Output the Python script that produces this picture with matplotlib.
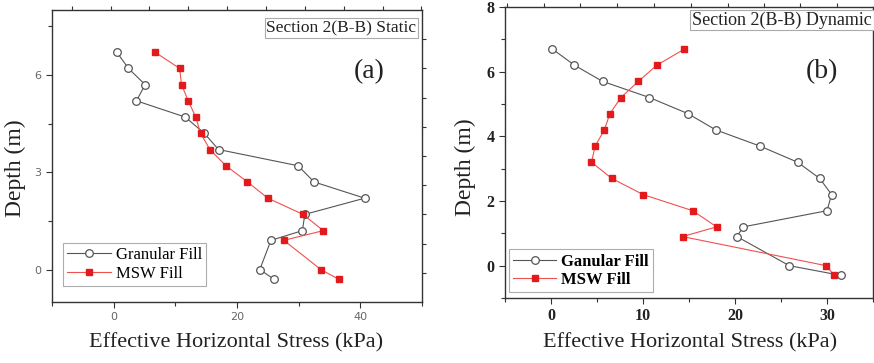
import numpy as np
import matplotlib
matplotlib.use('Agg')
import matplotlib.pyplot as plt
from matplotlib.ticker import MultipleLocator

# depths (m), same for every series
depth = [6.7, 6.2, 5.7, 5.2, 4.7, 4.2, 3.7, 3.2, 2.7, 2.2, 1.7, 1.2, 0.9, 0.0, -0.3]

# (a) static
static_granular = [0.5, 2.4, 5.1, 3.7, 11.6, 14.7, 17.0, 29.9, 32.5, 40.7, 31.0, 30.6, 25.5, 23.7, 26.0]
static_msw = [6.7, 10.7, 11.0, 12.1, 13.3, 14.1, 15.6, 18.2, 21.7, 25.0, 30.7, 34.0, 27.6, 33.6, 36.5]

# (b) dynamic
dyn_granular = [0.15, 2.55, 5.6, 10.7, 14.9, 17.9, 22.7, 26.8, 29.2, 30.5, 30.0, 20.9, 20.2, 25.9, 31.5]
dyn_msw = [14.5, 11.5, 9.5, 7.6, 6.4, 5.8, 4.8, 4.4, 6.6, 10.0, 15.4, 18.0, 14.3, 29.9, 30.8]

# odd extra ticks on the right / top frame of the original
right_ticks = [7.1, 6.2, 5.3, 4.4, 3.5, 2.6, 1.7, 0.8, -0.1]
top_ticks_a = [-6.8, -0.5, 5.8, 12.1, 18.4, 24.7, 31.0, 37.3, 43.6, 49.9]
top_ticks_b = [-4.8, -0.8, 3.2, 7.2, 11.2, 15.2, 19.2, 23.1, 27.1, 31.1]

serif = ['Liberation Serif', 'DejaVu Serif']
gray = '#555555'
red = '#e31a1c'
lred = '#f05050'
spine_c = '#333333'

fig = plt.figure(figsize=(8.74, 3.63), dpi=100)
W, H = 874.0, 363.0


def frame(ax, top_ticks):
    for s in ax.spines.values():
        s.set_color(spine_c)
        s.set_linewidth(1.0)
    ax.tick_params(which='both', direction='out', color=spine_c, width=0.8)
    ax.tick_params(which='major', length=4)
    ax.tick_params(which='minor', length=3)
    # right ticks
    axr = ax.twinx()
    axr.set_ylim(ax.get_ylim())
    axr.set_yticks(right_ticks)
    axr.set_yticklabels([])
    axr.tick_params(direction='out', length=3, color=spine_c, width=0.8)
    axr.spines['right'].set_color(spine_c)
    # top ticks
    axt = ax.twiny()
    axt.set_xlim(ax.get_xlim())
    axt.set_xticks(top_ticks)
    axt.set_xticklabels([])
    axt.tick_params(direction='out', length=3, color=spine_c, width=0.8)
    for a in (axr, axt):
        for s in a.spines.values():
            s.set_visible(False)


# ---------------- panel (a) ----------------
ax1 = fig.add_axes([52 / W, 1 - 302 / H, 370 / W, 292 / H])
ax1.plot(static_granular, depth, '-o', color=gray, lw=0.8, ms=5.5,
         mfc='white', mec=gray, mew=0.9, label='Granular Fill')
ax1.plot(static_msw, depth, '-s', color=lred, lw=0.8, ms=4.5,
         mfc=red, mec=red, label='MSW Fill')
ax1.set_xlim(-10, 50)
ax1.set_ylim(-1, 8)
ax1.xaxis.set_major_locator(MultipleLocator(20))
ax1.xaxis.set_minor_locator(MultipleLocator(10))
ax1.yaxis.set_major_locator(MultipleLocator(3))
ax1.yaxis.set_minor_locator(MultipleLocator(1.5))
ax1.tick_params(labelsize=8, labelcolor='#666666')
frame(ax1, top_ticks_a)
leg = ax1.legend(loc='lower left', bbox_to_anchor=(0.03, 0.055), frameon=True,
                 fancybox=False, prop={'family': serif, 'size': 12},
                 handlelength=2.6, handletextpad=0.3, borderpad=0.25,
                 labelspacing=0.15, borderaxespad=0)
leg.get_frame().set_edgecolor('#999999')
leg.get_frame().set_linewidth(0.8)
ax1.text(0.985, 0.965, 'Section 2(B-B) Static', transform=ax1.transAxes,
         ha='right', va='top', family=serif, fontsize=12.5, color='#222222',
         bbox=dict(boxstyle='square,pad=0.1', fc='white', ec='#aaaaaa', lw=0.8))
ax1.text(369 / W, 1 - 72 / H, '(a)', transform=fig.transFigure, ha='center',
         va='center', family=serif, fontsize=20, color='#222222')

# ---------------- panel (b) ----------------
ax2 = fig.add_axes([505 / W, 1 - 298 / H, 368 / W, 291 / H])
ax2.plot(dyn_granular, depth, '-o', color=gray, lw=0.8, ms=5.5,
         mfc='white', mec=gray, mew=0.9, label='Ganular Fill')
ax2.plot(dyn_msw, depth, '-s', color=lred, lw=0.8, ms=4.5,
         mfc=red, mec=red, label='MSW Fill')
ax2.set_xlim(-5, 35)
ax2.set_ylim(-1, 8)
ax2.xaxis.set_major_locator(MultipleLocator(10))
ax2.xaxis.set_minor_locator(MultipleLocator(5))
ax2.yaxis.set_major_locator(MultipleLocator(2))
ax2.yaxis.set_minor_locator(MultipleLocator(1))
ax2.tick_params(labelsize=11.5, labelcolor='#222222')
for t in ax2.get_xticklabels() + ax2.get_yticklabels():
    t.set_family(serif)
    t.set_fontweight('bold')
frame(ax2, top_ticks_b)
leg2 = ax2.legend(loc='lower left', bbox_to_anchor=(0.01, 0.02), frameon=True,
                  fancybox=False,
                  prop={'family': serif, 'size': 12, 'weight': 'bold'},
                  handlelength=2.6, handletextpad=0.3, borderpad=0.25,
                  labelspacing=0.15, borderaxespad=0)
leg2.get_frame().set_edgecolor('#999999')
leg2.get_frame().set_linewidth(0.8)
ax2.text(0.997, 0.985, 'Section 2(B-B) Dynamic', transform=ax2.transAxes,
         ha='right', va='top', family=serif, fontsize=13, color='#222222',
         bbox=dict(boxstyle='square,pad=0.1', fc='white', ec='#aaaaaa', lw=0.8))
ax2.text(822 / W, 1 - 72 / H, '(b)', transform=fig.transFigure, ha='center',
         va='center', family=serif, fontsize=20, color='#222222')

# axis labels
fig.text(15 / W, 1 - 168 / H, 'Depth (m)', rotation=90, ha='center', va='center',
         family=serif, fontsize=17, color='#222222')
fig.text(465 / W, 1 - 167 / H, 'Depth (m)', rotation=90, ha='center', va='center',
         family=serif, fontsize=17, color='#222222')
fig.text(236 / W, 1 - 343 / H, 'Effective Horizontal Stress (kPa)', ha='center',
         va='center', family=serif, fontsize=16, color='#222222')
fig.text(690 / W, 1 - 343 / H, 'Effective Horizontal Stress (kPa)', ha='center',
         va='center', family=serif, fontsize=16, color='#222222')

fig.savefig('out.png', dpi=100)
